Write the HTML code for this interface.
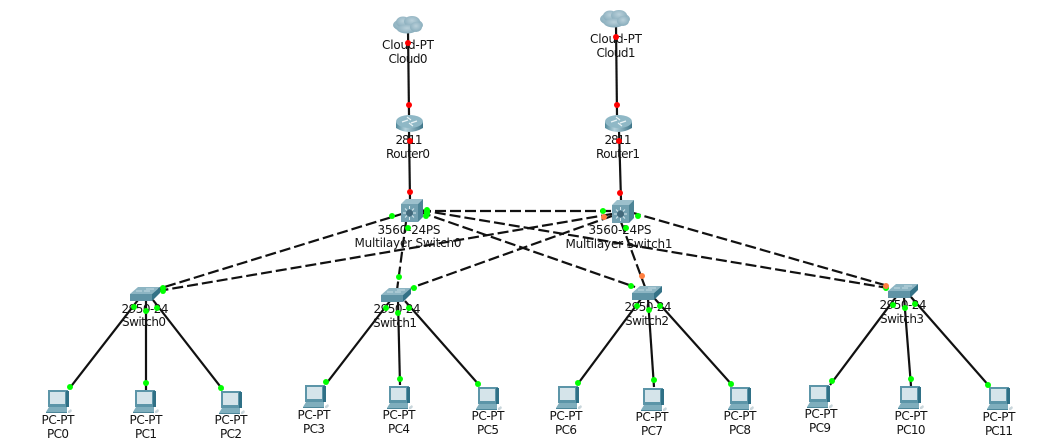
<!DOCTYPE html>
<html>
<head>
<meta charset="utf-8">
<style>
html,body{margin:0;padding:0;background:#fff;width:1053px;height:448px;overflow:hidden}
svg{display:block}
text{font-family:"DejaVu Sans","Liberation Sans",sans-serif;font-size:12px;fill:#141414;text-anchor:middle}
.d{stroke:#111;stroke-width:2.2;stroke-dasharray:11 4;fill:none}
.s{stroke:#111;stroke-width:2.2;fill:none}
.g{fill:#0f0}.r{fill:#f00}.o{fill:#ff7f3f}
</style>
</head>
<body>
<svg width="1053" height="448" viewBox="0 0 1053 448" xmlns="http://www.w3.org/2000/svg">
<defs>
<linearGradient id="rg" x1="0" x2="1" y1="0" y2="0"><stop offset="0" stop-color="#4f8799"/><stop offset=".35" stop-color="#b4d2dc"/><stop offset="1" stop-color="#3d7488"/></linearGradient>
<radialGradient id="cg" cx=".5" cy=".4" r=".7"><stop offset="0" stop-color="#b9d0da"/><stop offset="1" stop-color="#7fa6b6"/></radialGradient>
<g id="cloud">
<g fill="url(#cg)"><ellipse cx="15" cy="9" rx="15" ry="7"/><ellipse cx="10" cy="6" rx="7" ry="5.5"/><ellipse cx="19" cy="5.5" rx="8" ry="5.5"/><ellipse cx="14" cy="13" rx="10" ry="4.5"/><ellipse cx="23" cy="11" rx="6" ry="5"/></g>
</g>
<g id="router">
<path d="M0 8 L0 14 Q13 22 27 14 L27 8 Z" fill="url(#rg)"/>
<ellipse cx="13.5" cy="7.5" rx="13.5" ry="6.5" fill="#8fb8c6"/>
<path d="M6 8 L12 6 M15 9 L21 7 M11 3 L15 6 M13 9 L17 12" stroke="#e8f2f5" stroke-width="1.2"/>
</g>
<g id="mls">
<path d="M0 5 L5 0 L22 0 L17 5Z" fill="#9cc0cc"/>
<path d="M17 5 L22 0 L22 18 L17 23Z" fill="#4d8496"/>
<rect x="0" y="5" width="17" height="18" fill="#72a0b0"/>
<circle cx="8.5" cy="14" r="3.5" fill="#42697b"/>
<path d="M8.5 7 V10 M8.5 18 V21 M2 14 H5 M12 14 H15 M4 9.5 L6 11.5 M13 9.5 L11 11.5 M4 18.5 L6 16.5 M13 18.5 L11 16.5" stroke="#d8e8ee" stroke-width="1"/>
</g>
<g id="sw">
<path d="M0 8 L8 1 L30 1 L22 8Z" fill="#8db5c3"/>
<path d="M0 8 H22 V15 H0Z" fill="#5f93a5"/>
<path d="M22 8 L30 1 V7 L22 15Z" fill="#347287"/>
<path d="M6 5 H12 M14 5 H20 M16 3 H24" stroke="#c4dbe3" stroke-width="1"/>
</g>
<g id="pc">
<rect x="2" y="0" width="20" height="17" fill="#5c95a8"/>
<rect x="20" y="1" width="3" height="16" fill="#2f7086"/>
<rect x="4" y="2" width="15" height="12" fill="#d5e4ea"/>
<path d="M0 22 L3 17 H21 L21 22Z" fill="#7faebd"/>
<path d="M0 22 H21 V23 H0Z" fill="#4d8699"/>
<path d="M22 21 L25 19 L26 21 L24 23 H22Z" fill="#c9d6db"/>
</g>
</defs>

<!-- solid links -->
<g class="s">
<path d="M408 30 L409 115"/><path d="M616 25 L617 115"/>
<path d="M409 130 L410 200"/><path d="M619 130 L621 200"/>
<path d="M138 300 L69 389"/><path d="M146 300 L146 391"/><path d="M153 300 L223 390"/>
<path d="M390 301 L326 384"/><path d="M398 301 L400 385"/><path d="M405 301 L480 386"/>
<path d="M641 299 L577 385"/><path d="M648 299 L654 387"/><path d="M655 299 L733 386"/>
<path d="M896 297 L830 385"/><path d="M904 297 L911 386"/><path d="M911 297 L990 387"/>
</g>
<!-- dashed links -->
<g class="d">
<path d="M405 213 L158 289"/>
<path d="M612 214 L158 291"/>
<path d="M406 222 L397 290"/>
<path d="M612 216 L411 288"/>
<path d="M420 212 L635 287"/>
<path d="M420 210 L888 288"/>
<path d="M630 212 L888 286"/>
<path d="M420 211 L612 211"/>
<path d="M621 222 L645 287"/>
</g>

<!-- devices -->
<use href="#cloud" x="393" y="16"/>
<use href="#cloud" x="600" y="10"/>
<use href="#router" x="396" y="114"/>
<use href="#router" x="605" y="114"/>
<use href="#mls" x="401" y="199"/>
<use href="#mls" x="612" y="200"/>
<use href="#sw" x="130" y="286"/>
<use href="#sw" x="381" y="287"/>
<use href="#sw" x="632" y="285"/>
<use href="#sw" x="888" y="283"/>
<use href="#pc" x="46" y="390"/>
<use href="#pc" x="133" y="390"/>
<use href="#pc" x="219" y="391"/>
<use href="#pc" x="303" y="385"/>
<use href="#pc" x="387" y="386"/>
<use href="#pc" x="476" y="387"/>
<use href="#pc" x="556" y="386"/>
<use href="#pc" x="641" y="388"/>
<use href="#pc" x="728" y="387"/>
<use href="#pc" x="807" y="385"/>
<use href="#pc" x="898" y="386"/>
<use href="#pc" x="987" y="387"/>

<!-- labels -->
<text x="408" y="49" textLength="52">Cloud-PT</text><text x="408" y="63" textLength="39">Cloud0</text>
<text x="616" y="43" textLength="52">Cloud-PT</text><text x="616" y="57" textLength="39">Cloud1</text>
<text x="409" y="144" textLength="27">2811</text><text x="408" y="158" textLength="44">Router0</text>
<text x="618" y="144" textLength="27">2811</text><text x="618" y="158" textLength="44">Router1</text>
<text x="409" y="234" textLength="63">3560-24PS</text><text x="408" y="247" textLength="107">Multilayer Switch0</text>
<text x="620" y="234" textLength="63">3560-24PS</text><text x="619" y="248" textLength="107">Multilayer Switch1</text>
<text x="145" y="313" textLength="47">2950-24</text><text x="144" y="326" textLength="44">Switch0</text>
<text x="397" y="313" textLength="47">2950-24</text><text x="395" y="327" textLength="44">Switch1</text>
<text x="648" y="311" textLength="47">2950-24</text><text x="647" y="325" textLength="44">Switch2</text>
<text x="903" y="309" textLength="47">2950-24</text><text x="902" y="323" textLength="44">Switch3</text>
<text x="58" y="424" textLength="33">PC-PT</text><text x="58" y="438" textLength="22">PC0</text>
<text x="146" y="424" textLength="33">PC-PT</text><text x="146" y="438" textLength="22">PC1</text>
<text x="231" y="424" textLength="33">PC-PT</text><text x="231" y="438" textLength="22">PC2</text>
<text x="314" y="419" textLength="33">PC-PT</text><text x="314" y="433" textLength="22">PC3</text>
<text x="399" y="419" textLength="33">PC-PT</text><text x="399" y="433" textLength="22">PC4</text>
<text x="488" y="420" textLength="33">PC-PT</text><text x="488" y="434" textLength="22">PC5</text>
<text x="566" y="420" textLength="33">PC-PT</text><text x="566" y="434" textLength="22">PC6</text>
<text x="652" y="421" textLength="33">PC-PT</text><text x="652" y="435" textLength="22">PC7</text>
<text x="740" y="420" textLength="33">PC-PT</text><text x="740" y="434" textLength="22">PC8</text>
<text x="821" y="418" textLength="33">PC-PT</text><text x="820" y="432" textLength="22">PC9</text>
<text x="911" y="420" textLength="33">PC-PT</text><text x="911" y="434" textLength="29">PC10</text>
<text x="999" y="421" textLength="33">PC-PT</text><text x="999" y="435" textLength="28">PC11</text>

<!-- link lights -->
<g class="r">
<circle cx="408" cy="43" r="3"/><circle cx="409" cy="105" r="3"/>
<circle cx="616" cy="37" r="3"/><circle cx="617" cy="105" r="3"/>
<circle cx="410" cy="141" r="3"/><circle cx="410" cy="192" r="3"/>
<circle cx="619" cy="141" r="3"/><circle cx="620" cy="193" r="3"/>
</g>
<g class="g">
<circle cx="392" cy="216" r="3"/><circle cx="408" cy="228" r="3"/>
<circle cx="427" cy="210" r="3"/><circle cx="427" cy="212" r="3"/><circle cx="427" cy="214" r="3"/><circle cx="426" cy="216" r="3"/>
<circle cx="603" cy="211" r="3"/><circle cx="638" cy="216" r="3"/><circle cx="626" cy="228" r="3"/>
<circle cx="163" cy="288" r="3"/><circle cx="163" cy="291" r="3"/>
<circle cx="399" cy="277" r="3"/><circle cx="414" cy="288" r="3"/>
<circle cx="631" cy="286" r="3"/><circle cx="886" cy="288" r="3"/>
<circle cx="134" cy="307" r="3"/><circle cx="146" cy="311" r="3"/><circle cx="157" cy="308" r="3"/>
<circle cx="386" cy="308" r="3"/><circle cx="398" cy="313" r="3"/><circle cx="409" cy="308" r="3"/>
<circle cx="637" cy="306" r="3"/><circle cx="649" cy="310" r="3"/><circle cx="660" cy="306" r="3"/>
<circle cx="893" cy="305" r="3"/><circle cx="905" cy="308" r="3"/><circle cx="915" cy="304" r="3"/>
<circle cx="70" cy="387" r="3"/><circle cx="146" cy="383" r="3"/><circle cx="221" cy="388" r="3"/>
<circle cx="326" cy="382" r="3"/><circle cx="400" cy="379" r="3"/><circle cx="478" cy="384" r="3"/>
<circle cx="578" cy="383" r="3"/><circle cx="654" cy="380" r="3"/><circle cx="731" cy="384" r="3"/>
<circle cx="832" cy="381" r="3"/><circle cx="911" cy="379" r="3"/><circle cx="988" cy="385" r="3"/>
</g>
<g class="o">
<circle cx="604" cy="217" r="3"/><circle cx="642" cy="276" r="3"/><circle cx="886" cy="286" r="3"/>
</g>
</svg>
</body>
</html>
